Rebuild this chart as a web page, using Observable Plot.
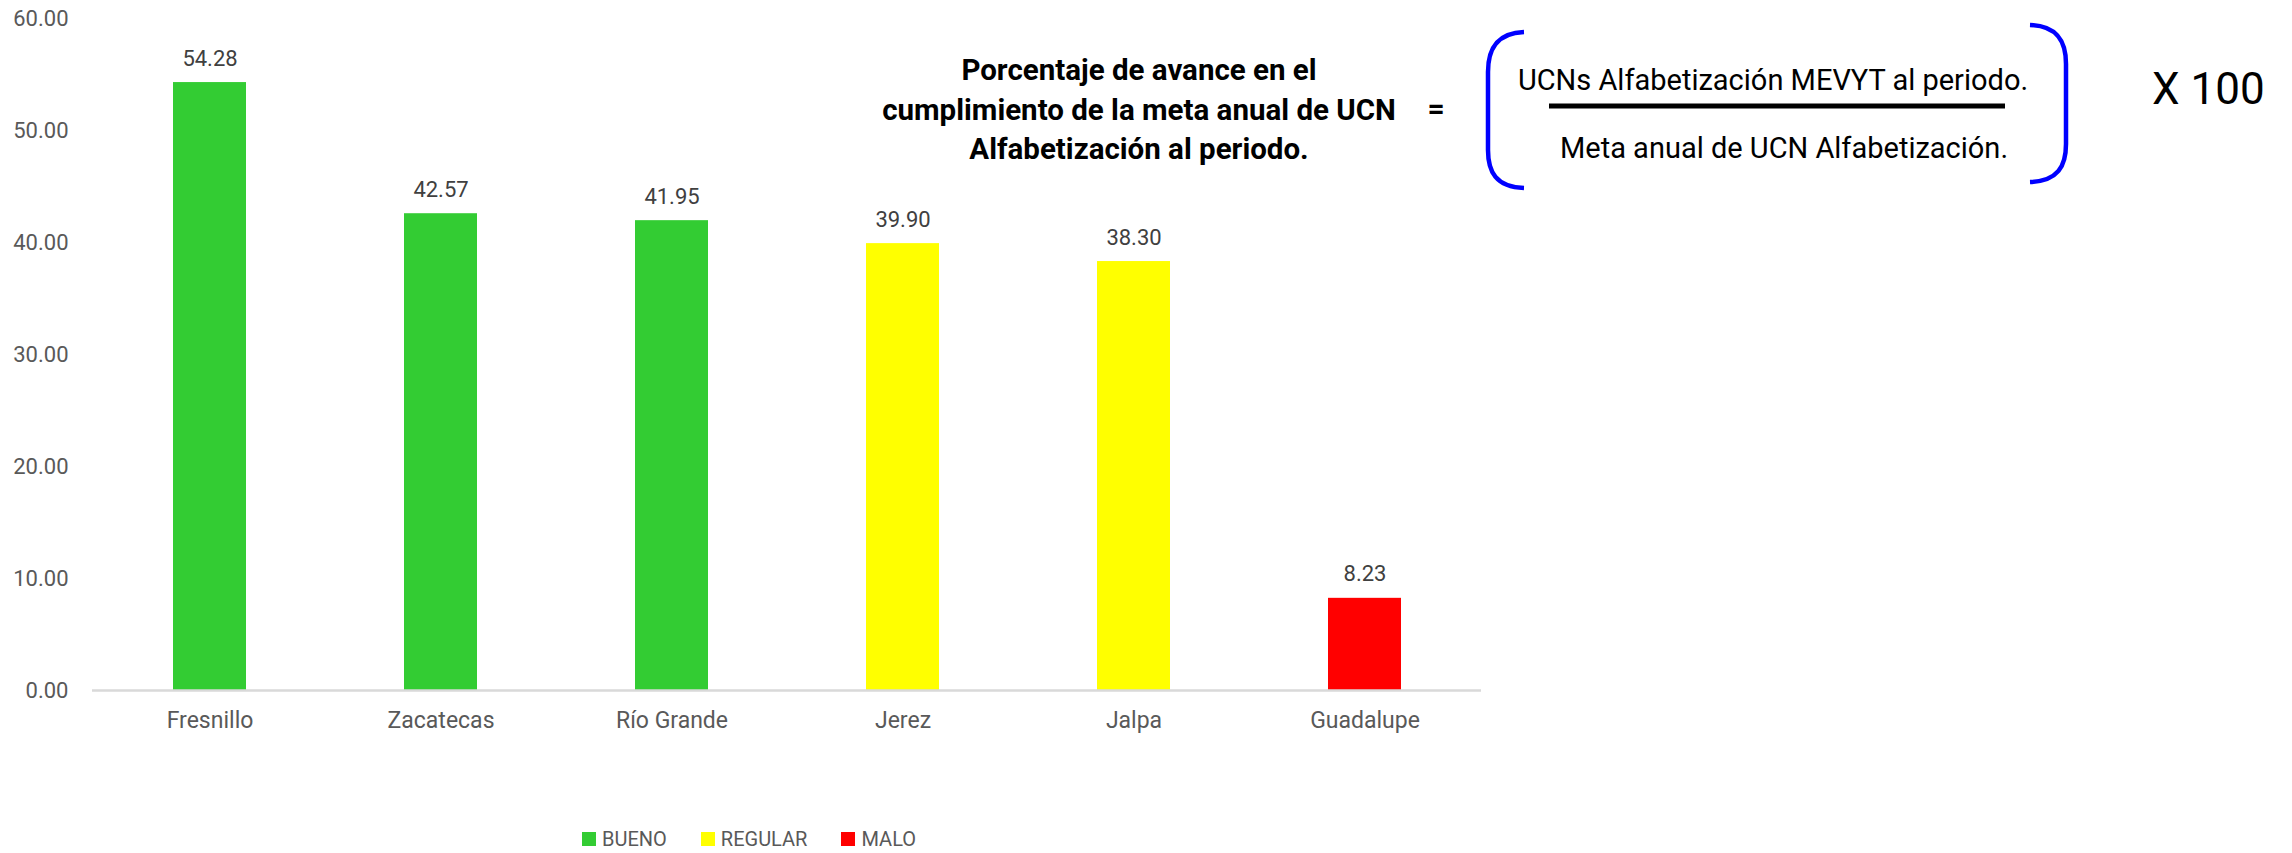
<!DOCTYPE html>
<html><head><meta charset="utf-8">
<script src="https://cdn.jsdelivr.net/npm/d3@7"></script>
<script src="https://cdn.jsdelivr.net/npm/@observablehq/plot@0.6"></script>
<style>
body{margin:0;background:#fff;font-family:Roboto,sans-serif;}
#wrap{position:relative;width:2292px;height:853px;overflow:hidden;background:#fff}
#legend{position:absolute;left:582px;top:829px;height:20px;display:flex;align-items:center;font-family:Roboto,sans-serif;font-size:20px;color:#595959;line-height:20px}
#legend .item{display:flex;align-items:center;margin-right:34px}
#legend .sw{width:14px;height:14px;margin-right:6px}
</style></head><body><div id="wrap"></div>
<script>
const municipios = ["Fresnillo","Zacatecas","Río Grande","Jerez","Jalpa","Guadalupe"];
const avance = [54.28,42.57,41.95,39.90,38.30,8.23];
const estatus = ["BUENO","BUENO","BUENO","REGULAR","REGULAR","MALO"];
const categoriasLeyenda = ["BUENO","REGULAR","MALO"];
const coloresLeyenda = ["#33cc33","#ffff00","#ff0000"];
const yTicks = [0,10,20,30,40,50,60];
const tituloLineas = ["Porcentaje de avance en el","cumplimiento de la meta anual de UCN","Alfabetización al periodo."];
const numerador = "UCNs Alfabetización MEVYT al periodo.";
const denominador = "Meta anual de UCN Alfabetización.";
const factor = "X 100";

const data = municipios.map((m,i)=>({municipio:m, valor:avance[i], estatus:estatus[i]}));

const chart = Plot.plot({
  width:2292, height:828,
  marginLeft:92, marginRight:811, marginTop:18, marginBottom:138,
  style:{fontFamily:"Roboto", fontSize:"22px", color:"#595959", background:"transparent", overflow:"visible"},
  x:{domain:municipios, paddingInner:0.685, paddingOuter:0.3425, label:null},
  y:{domain:[0,60], label:null},
  color:{domain:categoriasLeyenda, range:coloresLeyenda},
  marks:[
    Plot.axisX({tickSize:0, tickPadding:21, fontSize:23}),
    Plot.axisY({ticks:yTicks, tickSize:0, tickPadding:24, tickFormat:d=>d.toFixed(2), fontSize:22}),
    Plot.barY(data,{x:"municipio", y:"valor", fill:"estatus"}),
    Plot.ruleY([0],{stroke:"#d9d9d9", strokeWidth:2.5}),
    Plot.text(data,{x:"municipio", y:"valor", text:d=>d.valor.toFixed(2), dy:-24, fontSize:22, fill:"#404040"})
  ]
});
document.getElementById("wrap").appendChild(chart);

// Formula annotation
const svg = d3.select(chart);
const g = svg.append("g").attr("font-family","Roboto").attr("fill","#000");
g.append("g").selectAll("text").data(tituloLineas).join("text")
  .attr("x",1139).attr("y",(d,i)=>70+i*39.5).attr("dy","0.35em")
  .attr("text-anchor","middle").attr("font-weight","bold").attr("font-size",29.5).text(d=>d);
g.append("text").attr("x",1436).attr("y",108).attr("dy","0.35em").attr("text-anchor","middle")
  .attr("font-weight","bold").attr("font-size",30).text("=");
g.append("path").attr("d","M1524,32 C1496,33 1488,50 1488,72 L1488,150 C1488,172 1496,187 1524,188")
  .attr("fill","none").attr("stroke","#0000ff").attr("stroke-width",4.5);
g.append("path").attr("d","M2030,25 C2058,26 2066,42 2066,64 L2066,144 C2066,166 2058,181 2030,182")
  .attr("fill","none").attr("stroke","#0000ff").attr("stroke-width",4.5);
g.append("text").attr("x",1773).attr("y",80).attr("dy","0.35em").attr("text-anchor","middle")
  .attr("font-size",29).text(numerador);
g.append("line").attr("x1",1549).attr("x2",2005).attr("y1",106).attr("y2",106)
  .attr("stroke","#000").attr("stroke-width",5);
g.append("text").attr("x",1784).attr("y",148).attr("dy","0.35em").attr("text-anchor","middle")
  .attr("font-size",29).text(denominador);
g.append("text").attr("x",2152).attr("y",89).attr("dy","0.35em").attr("text-anchor","start")
  .attr("font-size",44).text(factor);

// Legend
const legend = d3.select("#wrap").append("div").attr("id","legend");
const items = legend.selectAll(".item").data(categoriasLeyenda).join("div").attr("class","item");
items.append("div").attr("class","sw").style("background",(d,i)=>coloresLeyenda[i]);
items.append("span").text(d=>d);
</script>
</body></html>
